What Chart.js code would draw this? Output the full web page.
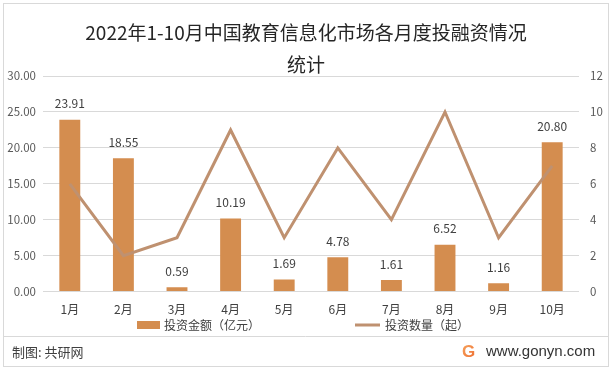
<!DOCTYPE html>
<html>
<head>
<meta charset="utf-8">
<script src="https://cdn.jsdelivr.net/npm/chart.js@4/dist/chart.umd.min.js"></script>
<style>
  html, body { margin: 0; padding: 0; background: #fff; }
  #wrap { width: 612px; height: 370px; position: relative; }
</style>
</head>
<body>
<div id="wrap"><canvas id="chart" width="612" height="370"></canvas></div>
<script>
const months = ['1月', '2月', '3月', '4月', '5月', '6月', '7月', '8月', '9月', '10月'];
const amounts = [23.91, 18.55, 0.59, 10.19, 1.69, 4.78, 1.61, 6.52, 1.16, 20.80];
const counts = [6, 2, 3, 9, 3, 8, 4, 10, 3, 7];
const leftTicks = [0, 5, 10, 15, 20, 25, 30];
const rightTicks = [0, 2, 4, 6, 8, 10, 12];

const FONT = '"Noto Sans CJK SC", "Microsoft YaHei", sans-serif';
const BAR = '#D48D4F';
const LINE = '#BF9170';

// labels over the bars, legend, footer and frame
const extras = {
  id: 'extras',
  afterDatasetsDraw(chart) {
    const ctx = chart.ctx;
    const meta = chart.getDatasetMeta(0);
    ctx.save();
    ctx.fillStyle = '#404040';
    ctx.font = '12px ' + FONT;
    ctx.textAlign = 'center';
    ctx.textBaseline = 'middle';
    meta.data.forEach((bar, i) => {
      ctx.fillText(amounts[i].toFixed(2), bar.x, bar.y - 16);
    });
    ctx.restore();
  },
  afterDraw(chart) {
    const ctx = chart.ctx;
    const ds = chart.data.datasets;
    ctx.save();
    // legend
    ctx.font = '12px ' + FONT;
    ctx.textBaseline = 'middle';
    ctx.textAlign = 'left';
    ctx.fillStyle = ds[0].backgroundColor;
    ctx.fillRect(137, 321, 23, 8);
    ctx.fillStyle = '#404040';
    ctx.fillText(ds[0].label, 164, 325);
    ctx.strokeStyle = ds[1].borderColor;
    ctx.lineWidth = 3;
    ctx.beginPath();
    ctx.moveTo(355, 325);
    ctx.lineTo(380, 325);
    ctx.stroke();
    ctx.fillText(ds[1].label, 385, 325);

    // frame and footer
    ctx.strokeStyle = '#D9D9D9';
    ctx.lineWidth = 1;
    ctx.strokeRect(3.5, 3.5, 605, 363);
    ctx.beginPath();
    ctx.moveTo(3, 336.5);
    ctx.lineTo(608, 336.5);
    ctx.stroke();

    ctx.fillStyle = '#404040';
    ctx.font = '13px ' + FONT;
    ctx.fillText('制图: 共研网', 12, 352);

    const g = ctx.createLinearGradient(463, 345, 477, 358);
    g.addColorStop(0, '#F5A05A');
    g.addColorStop(1, '#EE6A2E');
    ctx.fillStyle = g;
    ctx.font = 'bold 17px "Liberation Sans", sans-serif';
    ctx.fillText('G', 462, 352);

    ctx.fillStyle = '#333333';
    ctx.font = '15px "Liberation Sans", sans-serif';
    ctx.fillText('www.gonyn.com', 486, 352);
    ctx.restore();
  }
};

new Chart(document.getElementById('chart'), {
  type: 'bar',
  data: {
    labels: months,
    datasets: [
      {
        type: 'bar',
        label: '投资金额（亿元）',
        data: amounts,
        backgroundColor: BAR,
        yAxisID: 'y',
        barPercentage: 0.39,
        categoryPercentage: 1,
        order: 2
      },
      {
        type: 'line',
        label: '投资数量（起）',
        data: counts,
        borderColor: LINE,
        borderWidth: 3,
        pointRadius: 0,
        tension: 0,
        yAxisID: 'y1',
        order: 1
      }
    ]
  },
  options: {
    responsive: false,
    animation: false,
    events: [],
    layout: { padding: { top: 0, left: 3, right: 3, bottom: 42 } },
    plugins: {
      legend: { display: false },
      tooltip: { enabled: false },
      title: {
        display: true,
        text: ['2022年1-10月中国教育信息化市场各月度投融资情况', '统计'],
        color: '#262626',
        font: { family: FONT, size: 19, weight: 'normal', lineHeight: 1.66 },
        padding: { top: 17, bottom: -4 }
      }
    },
    scales: {
      x: {
        grid: { display: false, drawTicks: false },
        border: { display: false },
        ticks: { color: '#404040', font: { family: FONT, size: 12 }, padding: 11 }
      },
      y: {
        position: 'left',
        min: 0,
        max: 30,
        afterBuildTicks: s => { s.ticks = leftTicks.map(v => ({ value: v })); },
        afterFit: s => { s.width = 40; },
        grid: { color: '#D9D9D9', drawTicks: false },
        border: { display: false },
        ticks: {
          color: '#595959',
          font: { family: FONT, size: 11.5 },
          padding: 7,
          callback: v => v.toFixed(2)
        }
      },
      y1: {
        position: 'right',
        min: 0,
        max: 12,
        afterBuildTicks: s => { s.ticks = rightTicks.map(v => ({ value: v })); },
        afterFit: s => { s.width = 30; },
        grid: { display: false, drawTicks: false },
        border: { display: false },
        ticks: {
          color: '#595959',
          font: { family: FONT, size: 11.5 },
          padding: 11
        }
      }
    }
  },
  plugins: [extras]
});
</script>
</body>
</html>
